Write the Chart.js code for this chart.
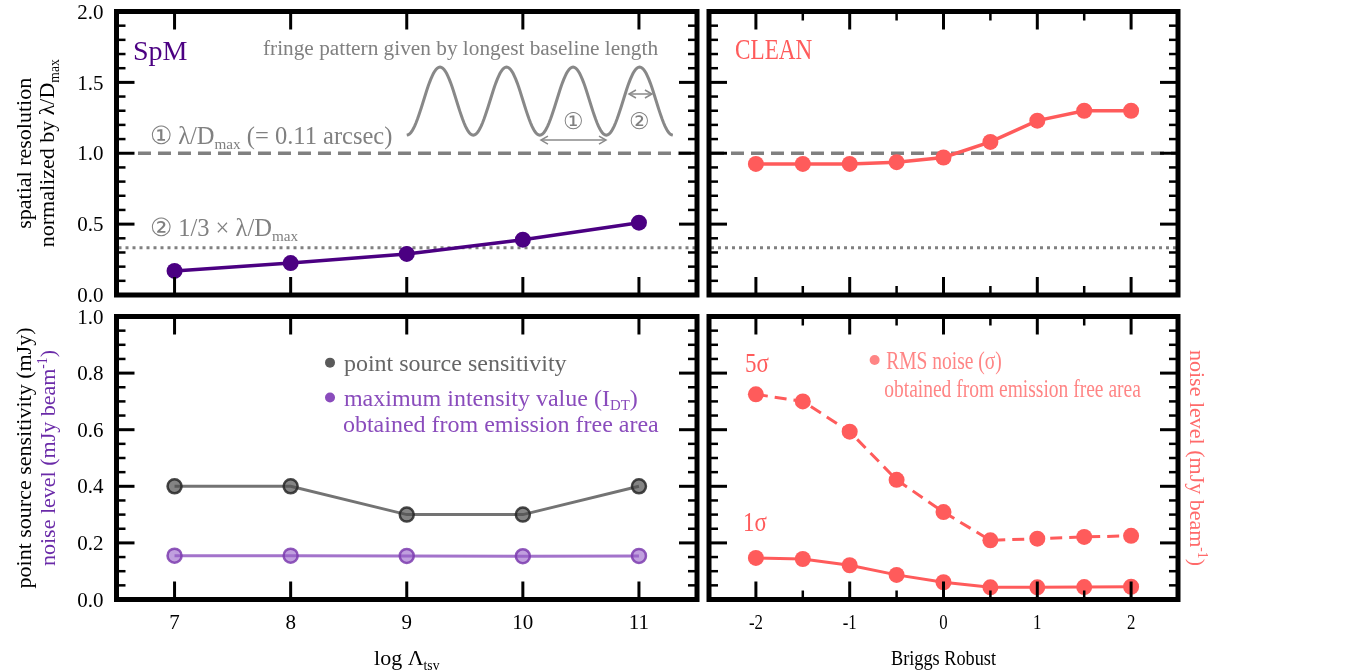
<!DOCTYPE html>
<html>
<head>
<meta charset="utf-8">
<script src="https://cdn.jsdelivr.net/npm/chart.js@4.4.0/dist/chart.umd.min.js"></script>
<style>
body { margin: 0; background: #fff; }
#wrap { position: relative; width: 1346px; height: 672px; }
canvas { position: absolute; left: 0; top: 0; }
</style>
</head>
<body>
<div id="wrap">
  <canvas id="tl" width="1346" height="672"></canvas>
  <canvas id="tr" width="1346" height="672"></canvas>
  <canvas id="bl" width="1346" height="672"></canvas>
  <canvas id="br" width="1346" height="672"></canvas>
</div>
<script>
// values
var logTsv = [7, 8, 9, 10, 11];
var spmRes = [0.17, 0.225, 0.29, 0.39, 0.51];
var robust = [-2, -1.5, -1, -0.5, 0, 0.5, 1, 1.5, 2];
var cleanRes = [0.925, 0.925, 0.925, 0.937, 0.97, 1.08, 1.23, 1.30, 1.30];
var pointSens = [0.4, 0.4, 0.3, 0.3, 0.4];
var maxInt = [0.155, 0.155, 0.154, 0.153, 0.154];
var rms1 = [0.147, 0.143, 0.121, 0.087, 0.061, 0.043, 0.043, 0.044, 0.045];
var rms5 = [0.725, 0.70, 0.593, 0.423, 0.309, 0.209, 0.215, 0.221, 0.225];
var beamRef = 1.0;      // lambda / Dmax
var beamThird = 1 / 3;  // 1/3 lambda / Dmax

var tsvTicks = [7, 8, 9, 10, 11];
var robustTicks = [-2, -1, 0, 1, 2];
var robustMinor = [-1.5, -0.5, 0.5, 1.5];
var resTicks = [0, 0.5, 1, 1.5, 2];
var noiseTicks = [0, 0.2, 0.4, 0.6, 0.8, 1.0];

var RED = '#ff5b5b';
var GREY = '#808080';
var FONT = '"Liberation Serif", "DejaVu Serif", serif';

function pts(xs, ys) {
  return xs.map(function(x, i) { return {x: x, y: ys[i]}; });
}

// text with sub / superscripts, y = middle of the text
function txt(c, parts, x, y, o) {
  var fs = o.size || 21, sx = o.sx || 1;
  if (typeof parts === 'string') parts = [[parts]];
  c.save();
  c.translate(x, y);
  c.scale(sx, 1);
  if (o.rot) c.rotate(o.rot);
  var items = [], w = 0;
  parts.forEach(function(p) {
    var k = p[1] || '';
    var s = k ? fs * 0.62 : fs;
    c.font = s + 'px ' + FONT;
    var m = c.measureText(p[0]).width;
    items.push({t: p[0], k: k, s: s, m: m});
    w += m;
  });
  var cx = o.align == 'center' ? -w / 2 : (o.align == 'right' ? -w : 0);
  c.fillStyle = o.color || '#000';
  c.textBaseline = 'alphabetic';
  c.textAlign = 'left';
  items.forEach(function(it) {
    c.font = it.s + 'px ' + FONT;
    var dy = it.k == 'sub' ? fs * 0.2 : (it.k == 'sup' ? -fs * 0.38 : 0);
    c.fillText(it.t, cx, fs * 0.34 + dy);
    cx += it.m;
  });
  c.restore();
}

function seg(c, x1, y1, x2, y2, w) {
  c.lineWidth = w;
  c.beginPath();
  c.moveTo(x1, y1);
  c.lineTo(x2, y2);
  c.stroke();
}

// inward ticks, thick box, tick labels
function frame(chart, o) {
  var c = chart.ctx, a = chart.chartArea, xs = chart.scales.x, ys = chart.scales.y;
  c.save();
  c.strokeStyle = '#000';
  c.lineCap = 'butt';
  o.xMajor.forEach(function(v) {
    var p = xs.getPixelForValue(v);
    seg(c, p, a.top, p, a.top + 18, 3);
    seg(c, p, a.bottom, p, a.bottom - 18, 3);
  });
  (o.xMinor || []).forEach(function(v) {
    var p = xs.getPixelForValue(v);
    seg(c, p, a.top, p, a.top + 9, 2.5);
    seg(c, p, a.bottom, p, a.bottom - 9, 2.5);
  });
  o.yMajor.forEach(function(v) {
    var p = ys.getPixelForValue(v);
    seg(c, a.left, p, a.left + 18, p, 3);
    seg(c, a.right, p, a.right - 18, p, 3);
  });
  var n = Math.round((ys.max - ys.min) / o.yStep);
  for (var i = 1; i < n; i++) {
    var v = ys.min + i * o.yStep;
    var isMajor = o.yMajor.some(function(m) { return Math.abs(m - v) < 1e-6; });
    if (isMajor) continue;
    var p = ys.getPixelForValue(v);
    seg(c, a.left, p, a.left + 9, p, 2.5);
    seg(c, a.right, p, a.right - 9, p, 2.5);
  }
  c.lineWidth = 5;
  c.strokeRect(a.left, a.top, a.right - a.left, a.bottom - a.top);
  if (o.yLabels) {
    o.yMajor.forEach(function(v) {
      txt(c, v.toFixed(1), a.left - 13, ys.getPixelForValue(v), {align: 'right', size: 21});
    });
  }
  if (o.xLabels) {
    o.xMajor.forEach(function(v) {
      txt(c, String(v), xs.getPixelForValue(v), a.bottom + 22, {align: 'center', size: 21, sx: o.sx});
    });
  }
  c.restore();
}

function hline(chart, v, xFrom, dash, w) {
  var c = chart.ctx, a = chart.chartArea;
  var y = chart.scales.y.getPixelForValue(v);
  c.save();
  c.strokeStyle = GREY;
  c.lineWidth = w;
  c.setLineDash(dash);
  c.beginPath();
  c.moveTo(xFrom, y);
  c.lineTo(a.right - 2, y);
  c.stroke();
  c.restore();
}

function arrow2(c, x1, x2, y) {
  c.save();
  c.strokeStyle = '#8a8a8a';
  c.lineWidth = 1.5;
  seg(c, x1, y, x2, y, 1.5);
  c.beginPath();
  c.moveTo(x1 + 7, y - 4); c.lineTo(x1, y); c.lineTo(x1 + 7, y + 4);
  c.moveTo(x2 - 7, y - 4); c.lineTo(x2, y); c.lineTo(x2 - 7, y + 4);
  c.stroke();
  c.restore();
}

function dot(c, x, y, r, col) {
  c.save();
  c.fillStyle = col;
  c.beginPath();
  c.arc(x, y, r, 0, Math.PI * 2);
  c.fill();
  c.restore();
}

function makeChart(id, area, xr, yr, datasets, deco) {
  return new Chart(document.getElementById(id).getContext('2d'), {
    type: 'line',
    data: {datasets: datasets},
    options: {
      responsive: false,
      animation: false,
      events: [],
      layout: {padding: {left: area[0], top: area[1], right: 1346 - area[2], bottom: 672 - area[3]}},
      plugins: {legend: {display: false}, tooltip: {enabled: false}},
      scales: {
        x: {type: 'linear', display: false, min: xr[0], max: xr[1]},
        y: {type: 'linear', display: false, min: yr[0], max: yr[1]}
      }
    },
    plugins: [deco]
  });
}

// top left: SpM resolution
makeChart('tl', [116.5, 11.5, 697, 295], [6.5, 11.5], [0, 2], [{
  data: pts(logTsv, spmRes),
  borderColor: '#4b0082', borderWidth: 3.5,
  pointRadius: 8, pointBorderWidth: 0, pointBackgroundColor: '#4b0082',
  tension: 0, clip: false
}], {
  id: 'decoTL',
  beforeDatasetsDraw: function(chart) {
    var xs = chart.scales.x;
    hline(chart, beamRef, xs.getPixelForValue(6.685), [13, 7], 3.5);
    hline(chart, beamThird, chart.chartArea.left + 2, [3, 4], 3);
  },
  afterDraw: function(chart) {
    var c = chart.ctx, a = chart.chartArea;
    var X = function(v) { return chart.scales.x.getPixelForValue(v); };
    var Y = function(v) { return chart.scales.y.getPixelForValue(v); };
    frame(chart, {xMajor: tsvTicks, yMajor: resTicks, yStep: 0.1, yLabels: true});
    txt(c, 'SpM', X(6.642), Y(1.728), {size: 28, color: '#4b0082'});
    txt(c, 'fringe pattern given by longest baseline length', X(9.463), Y(1.743), {size: 21.3, color: GREY, align: 'center'});
    // fringe sketch
    c.save();
    c.strokeStyle = '#888';
    c.lineWidth = 3;
    c.beginPath();
    for (var i = 0; i <= 200; i++) {
      var xv = 9.0 + i / 200 * 4 * 0.573;
      var yv = 1.368 - 0.24 * Math.cos(2 * Math.PI * (xv - 9.0) / 0.573);
      if (i == 0) c.moveTo(X(xv), Y(yv)); else c.lineTo(X(xv), Y(yv));
    }
    c.stroke();
    c.restore();
    arrow2(c, X(10.156), X(10.716), Y(1.093));
    arrow2(c, X(10.914), X(11.112), Y(1.418));
    txt(c, '\u2460', X(10.432), Y(1.228), {size: 23, color: GREY, align: 'center'});
    txt(c, '\u2461', X(11.009), Y(1.228), {size: 23, color: GREY, align: 'center'});
    txt(c, [['\u2460 \u03bb/D'], ['max', 'sub'], [' (= 0.11 arcsec)']], X(6.789), Y(1.122), {size: 24.5, color: GREY});
    txt(c, [['\u2461 1/3 \u00d7 \u03bb/D'], ['max', 'sub']], X(6.789), Y(0.473), {size: 24.5, color: GREY});
    // y title
    var cy = (a.top + a.bottom) / 2;
    txt(c, 'spatial resolution', 24, cy, {size: 22, rot: -Math.PI / 2, align: 'center'});
    txt(c, [['normalized by \u03bb/D'], ['max', 'sub']], 47, cy, {size: 22, rot: -Math.PI / 2, align: 'center'});
  }
});

// top right: CLEAN resolution
makeChart('tr', [709, 11.5, 1178, 295], [-2.5, 2.5], [0, 2], [{
  data: pts(robust, cleanRes),
  borderColor: RED, borderWidth: 3.5,
  pointRadius: 8, pointBorderWidth: 0, pointBackgroundColor: RED,
  tension: 0, clip: false
}], {
  id: 'decoTR',
  beforeDatasetsDraw: function(chart) {
    hline(chart, beamRef, chart.chartArea.left + 2, [13, 7], 3.5);
    hline(chart, beamThird, chart.chartArea.left + 2, [3, 4], 3);
  },
  afterDraw: function(chart) {
    var c = chart.ctx;
    var X = function(v) { return chart.scales.x.getPixelForValue(v); };
    var Y = function(v) { return chart.scales.y.getPixelForValue(v); };
    frame(chart, {xMajor: robustTicks, xMinor: robustMinor, yMajor: resTicks, yStep: 0.1});
    txt(c, 'CLEAN', X(-2.223), Y(1.735), {size: 29, sx: 0.8, color: RED});
  }
});

// bottom left: sensitivity / noise for SpM
makeChart('bl', [116.5, 316.5, 697, 599.5], [6.5, 11.5], [0, 1], [{
  data: pts(logTsv, pointSens),
  borderColor: 'rgba(90,90,90,0.85)', borderWidth: 3,
  pointRadius: 7, pointBorderWidth: 2.5,
  pointBackgroundColor: 'rgba(80,80,80,0.7)', pointBorderColor: 'rgba(40,40,40,0.85)',
  tension: 0, clip: false
}, {
  data: pts(logTsv, maxInt),
  borderColor: 'rgba(140,80,190,0.8)', borderWidth: 3,
  pointRadius: 7, pointBorderWidth: 2.5,
  pointBackgroundColor: 'rgba(150,95,200,0.6)', pointBorderColor: 'rgba(125,60,175,0.85)',
  tension: 0, clip: false
}], {
  id: 'decoBL',
  afterDraw: function(chart) {
    var c = chart.ctx, a = chart.chartArea;
    var X = function(v) { return chart.scales.x.getPixelForValue(v); };
    var Y = function(v) { return chart.scales.y.getPixelForValue(v); };
    frame(chart, {xMajor: tsvTicks, yMajor: noiseTicks, yStep: 0.05, yLabels: true, xLabels: true});
    dot(c, X(8.339), Y(0.837), 5, '#5a5a5a');
    txt(c, 'point source sensitivity', X(8.459), Y(0.837), {size: 24, color: '#666'});
    dot(c, X(8.339), Y(0.714), 5, '#8a4cbc');
    txt(c, [['maximum intensity value (I'], ['DT', 'sub'], [')']], X(8.459), Y(0.714), {size: 24, color: '#8a4cbc'});
    txt(c, 'obtained from emission free area', X(8.450), Y(0.622), {size: 24, color: '#8a4cbc'});
    var cy = (a.top + a.bottom) / 2;
    txt(c, 'point source sensitivity (mJy)', 24, cy, {size: 22, rot: -Math.PI / 2, align: 'center'});
    txt(c, [['noise level (mJy beam'], ['-1', 'sup'], [')']], 48, cy, {size: 22, rot: -Math.PI / 2, align: 'center', color: '#6a2aa8'});
    txt(c, [['log \u039b'], ['tsv', 'sub']], (a.left + a.right) / 2, 658, {size: 22, align: 'center'});
  }
});

// bottom right: CLEAN rms noise
makeChart('br', [709, 316.5, 1178, 599.5], [-2.5, 2.5], [0, 1], [{
  data: pts(robust, rms5),
  borderColor: RED, borderWidth: 3, borderDash: [12, 7],
  pointRadius: 8, pointBorderWidth: 0, pointBackgroundColor: RED,
  tension: 0, clip: false
}, {
  data: pts(robust, rms1),
  borderColor: RED, borderWidth: 3,
  pointRadius: 8, pointBorderWidth: 0, pointBackgroundColor: RED,
  tension: 0, clip: false
}], {
  id: 'decoBR',
  afterDraw: function(chart) {
    var c = chart.ctx, a = chart.chartArea;
    var X = function(v) { return chart.scales.x.getPixelForValue(v); };
    var Y = function(v) { return chart.scales.y.getPixelForValue(v); };
    frame(chart, {xMajor: robustTicks, xMinor: robustMinor, yMajor: noiseTicks, yStep: 0.05, xLabels: true, sx: 0.8});
    txt(c, '5\u03c3', X(-2.116), Y(0.839), {size: 28, sx: 0.82, color: RED});
    txt(c, '1\u03c3', X(-2.137), Y(0.274), {size: 28, sx: 0.82, color: RED});
    dot(c, X(-0.734), Y(0.846), 5, '#ff8585');
    txt(c, 'RMS noise (\u03c3)', X(-0.611), Y(0.846), {size: 25, sx: 0.78, color: '#ff8585'});
    txt(c, 'obtained from emission free area', X(-0.632), Y(0.747), {size: 25, sx: 0.78, color: '#ff8585'});
    var cy = (a.top + a.bottom) / 2;
    txt(c, [['noise level (mJy beam'], ['-1', 'sup'], [')']], 1197, cy, {size: 22, rot: Math.PI / 2, align: 'center', color: '#ff6a6a'});
    txt(c, 'Briggs Robust', (a.left + a.right) / 2, 658, {size: 22, sx: 0.83, align: 'center'});
  }
});
</script>
</body>
</html>
